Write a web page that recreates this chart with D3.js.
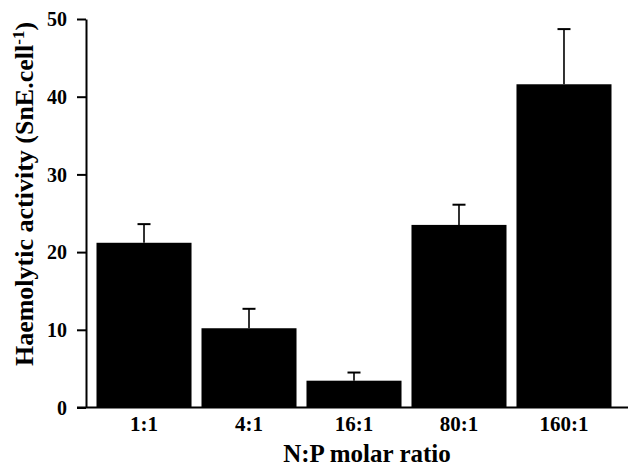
<!DOCTYPE html>
<html>
<head>
<meta charset="utf-8">
<script src="https://cdn.jsdelivr.net/npm/d3@7"></script>
<style>
  body { margin: 0; background: #fff; }
  svg text { font-family: "Liberation Serif", "Times New Roman", serif; font-weight: bold; fill: #000; }
</style>
</head>
<body>
<div id="chart"></div>
<script>
// data
const ratios = ["1:1", "4:1", "16:1", "80:1", "160:1"];
const activity = [21.2, 10.2, 3.45, 23.5, 41.6];
const errorTop = [23.6, 12.7, 4.5, 26.1, 48.7];
const yTicks = [0, 10, 20, 30, 40, 50];

const width = 632, height = 468;
const margin = { top: 19, right: 10, bottom: 60, left: 86 };

const svg = d3.select("#chart")
  .append("svg")
  .attr("width", width)
  .attr("height", height);

const x = d3.scaleBand()
  .domain(ratios)
  .range([margin.left, 622])
  .paddingInner(0.095)
  .paddingOuter(0.1);

const y = d3.scaleLinear()
  .domain([0, 50])
  .range([407.5, margin.top]);

// bars
svg.append("g")
  .selectAll("rect")
  .data(ratios)
  .join("rect")
  .attr("x", d => x(d))
  .attr("width", x.bandwidth())
  .attr("y", (d, i) => y(activity[i]))
  .attr("height", (d, i) => y(0) - y(activity[i]))
  .attr("fill", "#000");

// error bars (upper only)
const err = svg.append("g")
  .attr("stroke", "#000")
  .selectAll("g")
  .data(ratios)
  .join("g");

err.append("line")
  .attr("stroke-width", 1.6)
  .attr("x1", d => x(d) + x.bandwidth() / 2)
  .attr("x2", d => x(d) + x.bandwidth() / 2)
  .attr("y1", (d, i) => y(activity[i]))
  .attr("y2", (d, i) => y(errorTop[i]));

err.append("line")
  .attr("stroke-width", 2)
  .attr("x1", d => x(d) + x.bandwidth() / 2 - 6.5)
  .attr("x2", d => x(d) + x.bandwidth() / 2 + 6.5)
  .attr("y1", (d, i) => y(errorTop[i]))
  .attr("y2", (d, i) => y(errorTop[i]));

// y axis
const yAxis = svg.append("g")
  .attr("transform", "translate(" + margin.left + ",0)")
  .call(d3.axisLeft(y).tickValues(yTicks).tickSize(9).tickSizeOuter(0).tickPadding(10));
yAxis.select(".domain").attr("stroke-width", 2);
yAxis.selectAll(".tick line").attr("stroke-width", 2);
yAxis.selectAll(".tick text")
  .attr("font-size", 20)
  .attr("dy", "0.34em");

// x axis
const xAxis = svg.append("g")
  .attr("transform", "translate(0," + y(0) + ")")
  .call(d3.axisBottom(x).tickSize(0).tickPadding(9));
xAxis.select(".domain").remove();
xAxis.append("line")
  .attr("x1", margin.left - 9)
  .attr("x2", 628)
  .attr("stroke", "#000")
  .attr("stroke-width", 2);
xAxis.selectAll(".tick text")
  .attr("font-size", 21);

// axis titles
svg.append("text")
  .attr("x", 367)
  .attr("y", 462)
  .attr("text-anchor", "middle")
  .attr("font-size", 25)
  .text("N:P molar ratio");

const yTitle = svg.append("text")
  .attr("transform", "translate(33,194) rotate(-90)")
  .attr("text-anchor", "middle")
  .attr("font-size", 26);
yTitle.append("tspan").text("Haemolytic activity (SnE.cell");
yTitle.append("tspan").attr("font-size", 17).attr("dy", "-0.55em").text("-1");
yTitle.append("tspan").attr("dy", "0.35em").text(")");
</script>
</body>
</html>
